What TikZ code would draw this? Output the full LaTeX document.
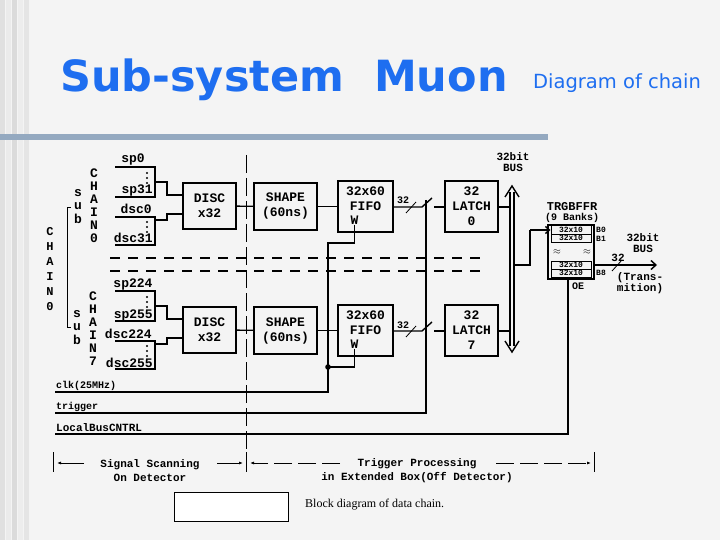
\documentclass[tikz,border=0pt]{standalone}
\usepackage{fontspec}
\setmainfont{Liberation Serif}
\newfontfamily\titlefont{DejaVu Sans}
\newfontfamily\monofont{Liberation Mono}
\usetikzlibrary{arrows.meta,positioning}
\definecolor{titleblue}{HTML}{1E6EF0}
\definecolor{barblue}{HTML}{94A9C0}
\definecolor{paper}{HTML}{F4F4F4}
\tikzset{
  blk/.style={draw,line width=2pt,inner sep=0pt},
  lbl/.style={font=\monofont\bfseries\fontsize{13}{13}\selectfont,inner sep=0pt,align=center},
  sml/.style={font=\monofont\bfseries\fontsize{10}{10}\selectfont,inner sep=0pt,align=center},
  wire/.style={line width=1.4pt},
  bank/.style={draw,line width=1pt,minimum width=40pt,minimum height=8pt,inner sep=0pt,font=\monofont\bfseries\fontsize{8}{8}\selectfont}
}
\begin{document}
\begin{tikzpicture}[x=1pt,y=-1pt]
\useasboundingbox (0,0) rectangle (720,540);
\fill[paper] (0,0) rectangle (720,540);
% left edge stripes
\foreach \x/\g in {0/88,6/92,12/86,18/93,24/90}{
  \fill[black!\the\numexpr100-\g\relax] (\x,0) rectangle (\x+5,540);
}
\fill[barblue] (0,134) rectangle (548,140);

% title
\node[anchor=base west,inner sep=0pt,text=titleblue,font=\titlefont\bfseries\fontsize{43}{43}\selectfont] (title) at (60,92) {Sub-system\ \ Muon};
\node[anchor=base west,inner sep=0pt,text=titleblue,font=\titlefont\fontsize{19.5}{19.5}\selectfont] (subtitle) at (533,89) {Diagram of chain};

% scanning / processing border
\draw[line width=0.8pt,dash pattern=on 18pt off 5pt] (246,155) -- (246,472);

% two sub chains
\foreach \c/\dy/\a/\b in {0/0/0/31,7/124/224/255}{
  \node[blk,minimum width=53pt,minimum height=46pt] (D\c) at (209.5,206+\dy) {};
  \node[lbl] at (D\c) {DISC\\[2pt]x32};
  \node[blk,minimum width=63pt,minimum height=47pt] (S\c) at (285.5,206.5+\dy) {};
  \node[lbl] at (S\c) {SHAPE\\[2pt](60ns)};
  \node[blk,minimum width=55pt,minimum height=51pt] (F\c) at (365.5,206.5+\dy) {};
  \node[lbl] at ([yshift=8pt]F\c.center) {32x60\\[2pt]FIFO};
  \node[lbl] (W\c) at ([xshift=-11pt,yshift=-14pt]F\c.center) {W};
  \node[blk,minimum width=53pt,minimum height=51pt] (L\c) at (471.5,206.5+\dy) {};
  \node[lbl] at (L\c) {32\\[2pt]LATCH\\[2pt]\c};
  % inputs
  \draw[wire] (115,167+\dy) -- (155,167+\dy) -- (155,197+\dy) -- (115,197+\dy);
  \draw[wire] (115,217+\dy) -- (155,217+\dy) -- (155,245+\dy) -- (115,245+\dy);
  \draw[wire] (155,182+\dy) -- (167,182+\dy) -- (167,195+\dy) -- (D\c.west |- 0,195+\dy);
  \draw[wire] (155,220+\dy) -- (167,220+\dy) -- (167,214+\dy) -- (D\c.west |- 0,214+\dy);
  \node[lbl,anchor=base] at (133,163+\dy) {sp\a};
  \node[lbl,anchor=base east] at (153,194+\dy) {sp\b};
  \node[lbl,anchor=base east] at (152,214+\dy) {dsc\a};
  \node[lbl,anchor=base east] at (153,243+\dy) {dsc\b};
  \foreach \d in {173,178,183,222,227,232}{ \fill (147,\d+\dy) circle (1.1pt); }
  % data path
  \draw[wire] (D\c) -- (S\c);
  \draw[wire] (S\c) -- (F\c);
  \coordinate (sw\c) at (422,207+\dy);
  \draw[wire] (F\c.east |- sw\c) -- (sw\c) -- (432,198+\dy);
  \draw[wire] (434,207+\dy) -- (L\c.west |- 0,207+\dy);
  \draw[line width=0.8pt] (406,213+\dy) -- (416,202+\dy);
  \node[sml,anchor=base] at (403,204+\dy) {32};
  \draw[wire] (L\c.east |- 0,207+\dy) -- (510,207+\dy);
}

% sub chain labels
\foreach \t [count=\i] in {C,H,A,I,N,0}{
  \node[lbl] at (94,160+13*\i) {\t};
  \node[lbl,font=\monofont\bfseries\fontsize{12}{12}\selectfont] at (50,217+15*\i) {\t};
}
\foreach \t [count=\i] in {C,H,A,I,N,7}{
  \node[lbl] at (93,283+13*\i) {\t};
}
\foreach \t [count=\i] in {s,u,b}{
  \node[lbl] at (78,180+13*\i) {\t};
  \node[lbl] at (77,301+13*\i) {\t};
}
\draw[line width=0.8pt] (71,207) -- (67,207) -- (67,327) -- (71,327);

% chain separators
\draw[wire,dash pattern=on 10pt off 8pt] (110,258) -- (487,258);
\draw[wire,dash pattern=on 10pt off 8pt] (110,271) -- (487,271);

% control lines
\coordinate (clkT) at (328,243);
\coordinate (clkJ) at (328,367);
\draw[wire] (W0.south) -- (W0.south |- clkT) -- (clkT) -- (328,392) -- (55,392);
\draw[wire] (W7.south) -- (W7.south |- clkJ) -- (clkJ);
\fill (clkJ) circle (2.8pt);
\draw[wire] (426,200) -- (426,413) -- (55,413);
\node[sml,anchor=base west] (clk) at (56,388) {clk(25MHz)};
\node[sml,anchor=base west] (trg) at (56,409) {trigger};
\node[sml,anchor=base west,font=\monofont\bfseries\fontsize{11}{11}\selectfont] (lbc) at (56,431) {LocalBusCNTRL};

% 32bit bus
\draw[wire] (510,192) -- (510,346);
\draw[wire] (514,192) -- (514,346);
\draw[wire] (505,197) -- (512,186) -- (519,197);
\draw[wire] (505,341) -- (512,352) -- (519,341);
\node[sml,anchor=base,font=\monofont\bfseries\fontsize{11}{11}\selectfont] (bus) at (513,172) {32bit\\BUS};

% trigger buffer
\node[blk,minimum width=46pt,minimum height=54pt] (TB) at (571,252) {};
\node[bank] (B0) at (571,230) {32x10};
\node[bank] (B1) at (571,238) {32x10};
\node[bank] (B7) at (571,265) {32x10};
\node[bank] (B8) at (571,273) {32x10};
\node[sml] at (557,252) {$\approx$};
\node[sml] at (587,252) {$\approx$};
\node[sml,anchor=west,font=\monofont\bfseries\fontsize{8}{8}\selectfont] at (596,230) {B0};
\node[sml,anchor=west,font=\monofont\bfseries\fontsize{8}{8}\selectfont] at (596,238.5) {B1};
\node[sml,anchor=west,font=\monofont\bfseries\fontsize{8}{8}\selectfont] at (596,273) {B8};
\node[lbl,font=\monofont\bfseries\fontsize{12}{12}\selectfont] (tbn) at (572,207) {TRGBFFR};
\node[sml] (tbb) at (572,218) {(9 Banks)};
\node[sml] (oe) at (578,286) {OE};
\draw[wire] (514,265) -- (530,265) -- (530,230);
\draw[wire,-{Straight Barb[length=4pt,width=7pt]}] (530,230) -- (B0.west);
\draw[wire] (568,279) -- (568,434) -- (55,434);
\coordinate (out) at (657,265);
\draw[wire,-{Straight Barb[length=5pt,width=9pt]}] (TB.east |- out) -- (out);
\draw[line width=0.8pt] (612,271) -- (622,260);
\node[sml,anchor=base,font=\monofont\bfseries\fontsize{11}{11}\selectfont] at (618,261) {32};
\node[sml,font=\monofont\bfseries\fontsize{11}{11}\selectfont] at (643,243) {32bit\\BUS};
\node[sml,font=\monofont\bfseries\fontsize{11}{11}\selectfont] at (640,283) {(Trans-\\mition)};

% regions
\foreach \x in {53,246,594}{ \draw[line width=0.8pt] (\x,452) -- (\x,472); }
\node[sml,font=\monofont\bfseries\fontsize{11}{11}\selectfont] (scan) at (150,471) {Signal Scanning\\[3pt]On Detector};
\node[sml,font=\monofont\bfseries\fontsize{11}{11}\selectfont] (proc) at (417,471) {Trigger Processing\\[3pt]in Extended Box(Off Detector)};
\draw[line width=0.8pt,-{Latex[length=4pt]}] (84,463) -- (57,463);
\draw[line width=0.8pt,-{Latex[length=4pt]}] (217,463) -- (243,463);
\draw[line width=0.8pt,dash pattern=on 18pt off 6pt,-{Latex[length=4pt]}] (340,463) -- (250,463);
\draw[line width=0.8pt,dash pattern=on 18pt off 6pt,-{Latex[length=4pt]}] (496,463) -- (591,463);

% caption
\node[draw,fill=white,minimum width=114pt,minimum height=29pt,inner sep=0pt] (capbox) at (231,506.5) {};
\node[anchor=west,inner sep=0pt,font=\fontsize{12}{12}\selectfont] (cap) at (305,505) {Block diagram of data chain.};
\end{tikzpicture}
\end{document}
